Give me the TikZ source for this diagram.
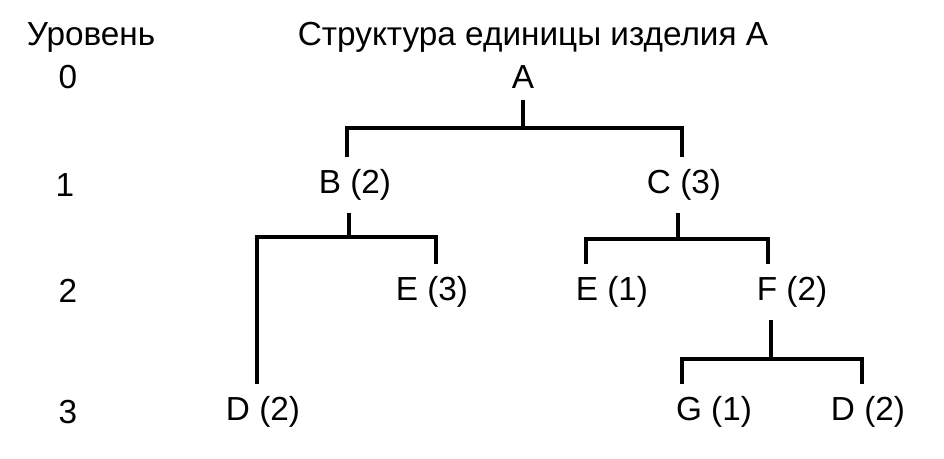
\documentclass[tikz,border=0pt]{standalone}
\usepackage{fontspec}
\setmainfont{Liberation Sans}
\usepackage{tikz}
\usetikzlibrary{positioning}
\tikzstyle{every node}=[font=\fontsize{25}{27}\selectfont, inner sep=2pt]
\tikzstyle{part} = [text centered, outer sep=7pt]
\tikzstyle{level} = [text centered]
\tikzstyle{line} = [draw, line width=2.6pt]

\begin{document}
\begin{tikzpicture}[x=0.75pt, y=-0.75pt]
    \useasboundingbox (0,0) rectangle (944,458);
    % Place nodes
    \node (head) at (91,37) {Уровень};
    \node (title) at (533,37) {Структура единицы изделия А};
    \node [level] (l0) at (68,77) {0};
    \node [level] (l1) at (65,185) {1};
    \node [level] (l2) at (68,291) {2};
    \node [level] (l3) at (68,412) {3};
    \node [part] (A) at (523,77) {A};
    \node [part] (B) at (355,185) {B (2)};
    \node [part] (C) at (684,185) {C (3)};
    \node [part] (E3) at (432,292) {E (3)};
    \node [part] (E1) at (612,292) {E (1)};
    \node [part] (F) at (792,292) {F (2)};
    \node [part] (D2) at (263,412) {D (2)};
    \node [part] (G) at (714,412) {G (1)};
    \node [part] (D3) at (868,412) {D (2)};
    % Draw edges
    \coordinate (jA) at (523,128);
    \coordinate (jB) at (349,237);
    \coordinate (jC) at (678,239);
    \coordinate (jF) at (771,359);
    \path [line] (A) -- (jA);
    \path [line] (B.north -| 347,0) -- (jA -| 347,0) -- (jA -| 682,0) -- (C.north -| 682,0);
    \path [line] (B.south -| jB) -- (jB);
    \path [line] (D2.north -| 257,0) -- (jB -| 257,0) -- (jB -| 436,0) -- (E3.north -| 436,0);
    \path [line] (C.south -| jC) -- (jC);
    \path [line] (E1.north -| 586,0) -- (jC -| 586,0) -- (jC -| 768,0) -- (F.north -| 768,0);
    \path [line] (F.south -| jF) -- (jF);
    \path [line] (G.north -| 682,0) -- (jF -| 682,0) -- (jF -| 862,0) -- (D3.north -| 862,0);
\end{tikzpicture}
\end{document}
